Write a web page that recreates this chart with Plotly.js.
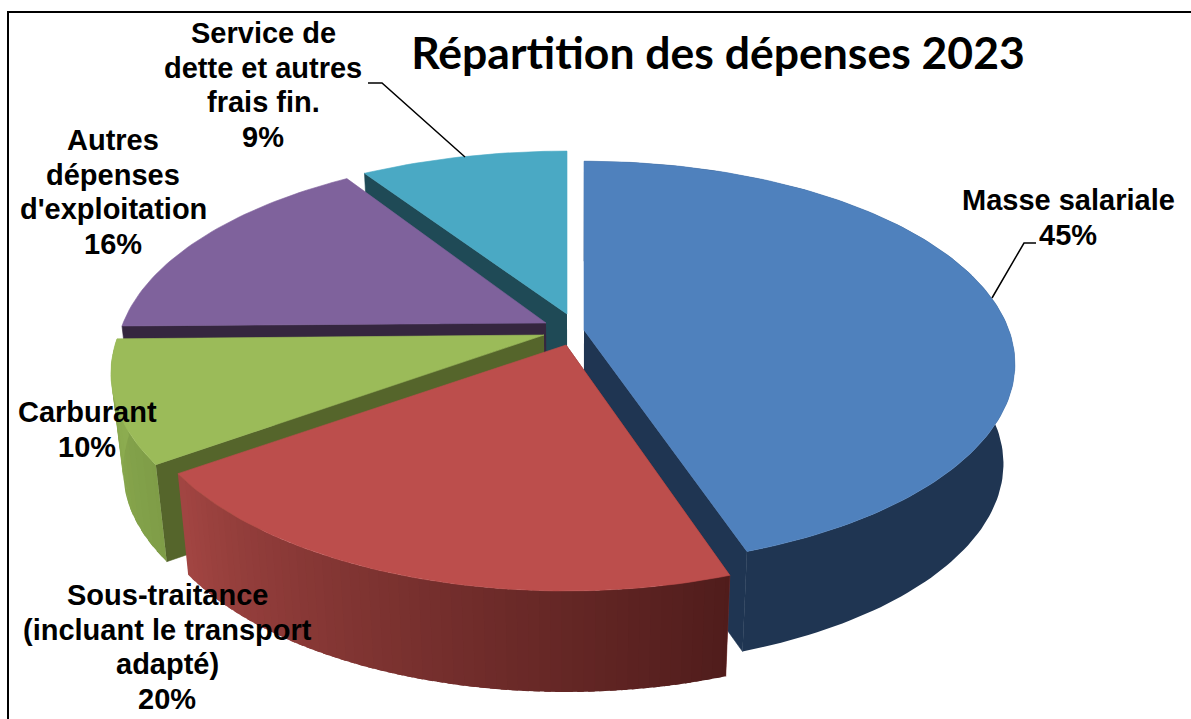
<!DOCTYPE html>
<html><head><meta charset="utf-8">
<script src="https://cdn.plot.ly/plotly-3.0.1.min.js"></script>
<style>html,body{margin:0;padding:0;background:#fff}#c{width:1191px;height:719px}</style>
</head><body><div id="c"></div>
<script>
// ---- data ----
const categories = ["Masse salariale","Sous-traitance (incluant le transport adapté)","Carburant","Autres dépenses d'exploitation","Service de dette et autres frais fin."];
const shares = [45,20,10,16,9];
const titleText = "Répartition des dépenses 2023";
const labelLines = [
  ["Masse salariale","45%"],
  ["Sous-traitance","(incluant le transport","adapté)","20%"],
  ["Carburant","10%"],
  ["Autres","dépenses","d'exploitation","16%"],
  ["Service de","dette et autres","frais fin.","9%"]
];
// ---- styling / geometry of the drawing ----
const topColors  = ["#4F81BD","#BC4E4C","#9BBB59","#7F629C","#4AA9C4"];
const cutColors  = ["#1F3552","#7a2f2d","#55652B","#35263F","#1F4A56"];
const rimFrom    = ["#1F3552","#A24542","#8DAD50","#3F3151","#1F4A56"];
const rimTo      = ["#1F3552","#4F1C1B","#7E9C47","#3F3151","#1F4A56"];
const pieCenters = [[584,330],[566,345],[544,335],[546,323],[567,314]];
const scaleX     = [0.995,1,1,0.993,1.01];
const scaleY     = [1,1.04,1.02,1,0.965];
const tilt       = [0,0,-0.009,-0.007,0];
const depth      = [100,101,97,100,100];
const labelPos   = [[1068,200],[167,595],[87,412],[113,140],[263,33]];
const lineStep = 34.5;
const rimStrips = [1,60,12,1,1];
const drawOrder = [4,3,2,0,1];
const leaders = [ {x:[1036,1024,992],y:[243,243,298]}, {x:[368,382,465],y:[83,83,157]} ];

const F=427, G=197, K=0.167, VPX=575, S=0.974, W=0.025;
const hex=c=>[1,3,5].map(i=>parseInt(c.substr(i,2),16));
const mix=(a,b,t)=>{const A=hex(a),B=hex(b);return 'rgb('+A.map((v,i)=>Math.round(v+(B[i]-v)*t)).join(',')+')';};
// share position (0..100, clockwise from top) -> picture coordinates on slice i
function rimPt(i,pct){
  let a=pct/100*2*Math.PI;
  if(pct>25&&pct<75) a+=W*Math.sin(2*a);
  const x=Math.sin(a), y=Math.cos(a), d=1+K*y, sx=scaleX[i]*F*x/d;
  return [pieCenters[i][0]+sx, pieCenters[i][1]-scaleY[i]*G*y/d+tilt[i]*sx];
}
const lowerOf=i=>p=>[VPX+(p[0]-VPX)*S, p[1]+depth[i]];
function arc(i,p0,p1){const n=Math.max(2,Math.ceil(Math.abs(p1-p0)*3)),o=[];for(let k=0;k<=n;k++)o.push(rimPt(i,p0+(p1-p0)*k/n));return o;}
function poly(pts,color,lw){
  return {type:'scatter',mode:'lines',x:pts.map(p=>p[0]),y:pts.map(p=>p[1]),fill:'toself',fillcolor:color,
    line:{color:color,width:lw===undefined?0.6:lw},hoverinfo:'skip',showlegend:false};
}
const starts=[];let acc=0;shares.forEach(s=>{starts.push(acc);acc+=s;});
const traces=[];
drawOrder.forEach(i=>{
  const p0=starts[i],p1=p0+shares[i],c=pieCenters[i],low=lowerOf(i);
  const cutPct = i===0 ? p1 : p0;
  const e=rimPt(i,cutPct);
  traces.push(poly([c,e,low(e),low(c)],cutColors[i]));
  if(i<=2){
    const n=rimStrips[i], step=(p1-p0)/n;
    for(let k=0;k<n;k++){
      const a=p0+step*k, b=a+step;
      const t=arc(i,Math.max(p0,a-step*0.6),b);
      const col=mix(rimTo[i],rimFrom[i],(k+.5)/n);
      traces.push(poly(t.concat(t.slice().reverse().map(low)),col,0));
    }
  }
  traces.push(poly([c].concat(arc(i,p0,p1)).concat([c]),topColors[i]));
});
leaders.forEach(l=>traces.push({type:'scatter',mode:'lines',x:l.x,y:l.y,line:{color:'#000',width:1.5},hoverinfo:'skip',showlegend:false}));

const annotations=[];
labelLines.forEach((lines,i)=>lines.forEach((txt,j)=>annotations.push({
  x:labelPos[i][0],y:labelPos[i][1]+j*lineStep,xref:'x',yref:'y',text:txt,showarrow:false,
  xanchor:'center',yanchor:'middle',font:{family:'"Liberation Sans",Arial,sans-serif',size:29,color:'#000',weight:700}
})));
const layout={
  width:1191,height:719,margin:{l:0,r:0,t:0,b:0},paper_bgcolor:'#fff',plot_bgcolor:'#fff',showlegend:false,
  title:{text:'<b>'+titleText+'</b>',x:718/1191,xanchor:'center',xref:'paper',y:1-53/719,yanchor:'middle',yref:'paper',
    font:{family:'Lato,sans-serif',size:44.5,color:'#000'}},
  xaxis:{range:[0,1191],visible:false,fixedrange:true},
  yaxis:{range:[719,0],visible:false,fixedrange:true},
  annotations:annotations,
  shapes:[
    {type:'line',xref:'x',yref:'y',x0:8,x1:1191,y0:12,y1:12,line:{color:'#000',width:2}},
    {type:'line',xref:'x',yref:'y',x0:8,x1:8,y0:11,y1:719,line:{color:'#000',width:2}}
  ]
};
Plotly.newPlot('c',traces,layout,{displayModeBar:false,staticPlot:true});
</script></body></html>
